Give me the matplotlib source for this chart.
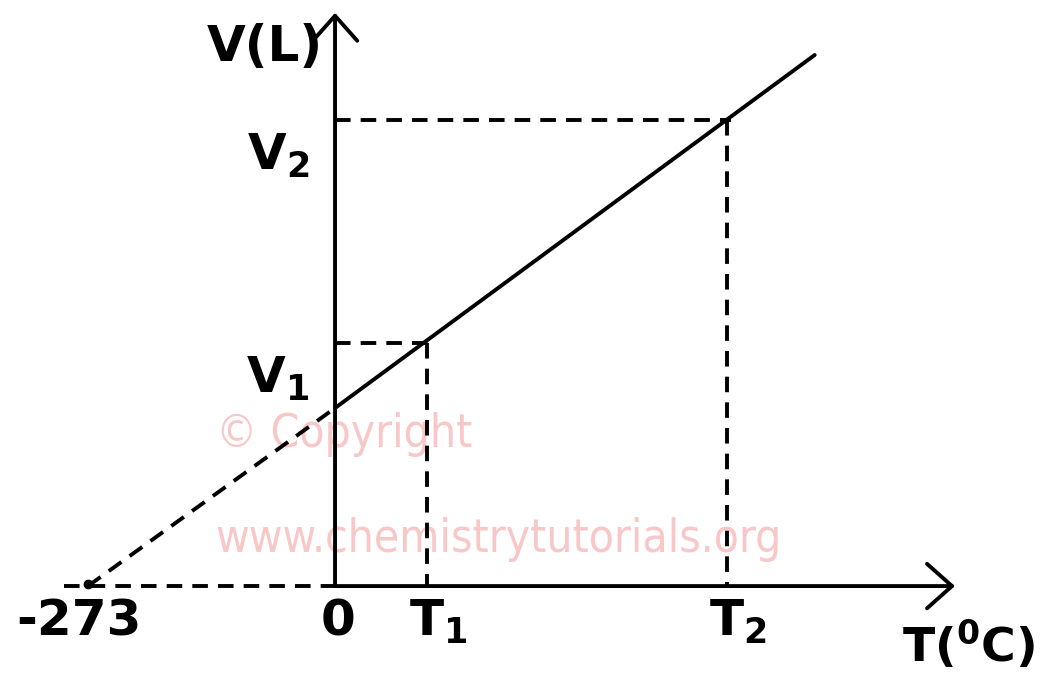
import matplotlib.pyplot as plt

# Charles's law sketch: values in deg C and relative volume units
t_zero_abs = -273
t_axis = [-300, 685]          # dashed left end, arrow tip
v_axis_top = 3.22
t_line = [0, 530]
v_line = [1.0, 2.983]
t_points = [102, 433]          # T1, T2
v_points = [1.365, 2.618]      # V1, V2
t_labels = ["$\\mathbf{T_1}$", "$\\mathbf{T_2}$"]
v_labels = ["$\\mathbf{V_1}$", "$\\mathbf{V_2}$"]

plt.rcParams["mathtext.fontset"] = "dejavusans"

fig = plt.figure(figsize=(10.44, 6.79), dpi=100)
ax = fig.add_axes([0, 0, 1, 1])
ax.set_xlim(-370.2, 783.4)
ax.set_ylim(-0.522, 3.292)
ax.axis("off")

lw = 2.8
dash = (0, (4, 2.6))

# axes with open arrow heads
arrow = dict(arrowstyle="->,head_length=0.45,head_width=0.4", lw=lw,
             color="black", shrinkA=0, shrinkB=0, mutation_scale=40)
ax.annotate("", xy=(t_axis[1], 0), xytext=(0, 0), arrowprops=arrow)
ax.annotate("", xy=(0, v_axis_top), xytext=(0, 0), arrowprops=arrow)

# dashed extension of the temperature axis and extrapolation to -273
ax.plot([t_axis[0], 0], [0, 0], color="black", lw=lw, linestyle=dash)
ax.plot([t_zero_abs, t_line[0]], [0, v_line[0]], color="black", lw=lw, linestyle=dash)
ax.plot([t_zero_abs], [0.01], marker="o", ms=6, color="black")

# solid V-T line
ax.plot(t_line, v_line, color="black", lw=lw, solid_capstyle="round")

# guide lines for (T1, V1) and (T2, V2)
for t, v in zip(t_points, v_points):
    ax.plot([0, t + 5], [v, v], color="black", lw=lw, linestyle=dash)
    ax.plot([t, t], [v, 0], color="black", lw=lw, linestyle=dash)

font = dict(fontsize=36, fontweight="bold", color="black")
ax.text(-283, -0.2, "-273", ha="center", va="center", **font)
ax.text(3, -0.2, "0", ha="center", va="center", **font)
for t, lab in zip(t_points, t_labels):
    ax.text(t + 12, -0.2, lab, ha="center", va="center", fontsize=36)
for v, lab in zip(v_points, v_labels):
    ax.text(-63, v - 0.2, lab, ha="center", va="center", fontsize=36)
ax.text(700, -0.33, "T($\\mathbf{^0}$C)", ha="center", va="center",
        fontsize=34, fontweight="bold")
ax.text(-78, 3.03, "V(L)", ha="center", va="center", **font)

# watermark
wm = dict(color="#f7bdbd", alpha=0.85, fontsize=33, stretch="condensed",
          family="DejaVu Sans", zorder=0)
ax.text(-132, 0.85, "© Copyright", ha="left", va="center", **wm)
ax.text(-132, 0.26, "www.chemistrytutorials.org", ha="left", va="center", **wm)

fig.savefig("out.png", dpi=100)
